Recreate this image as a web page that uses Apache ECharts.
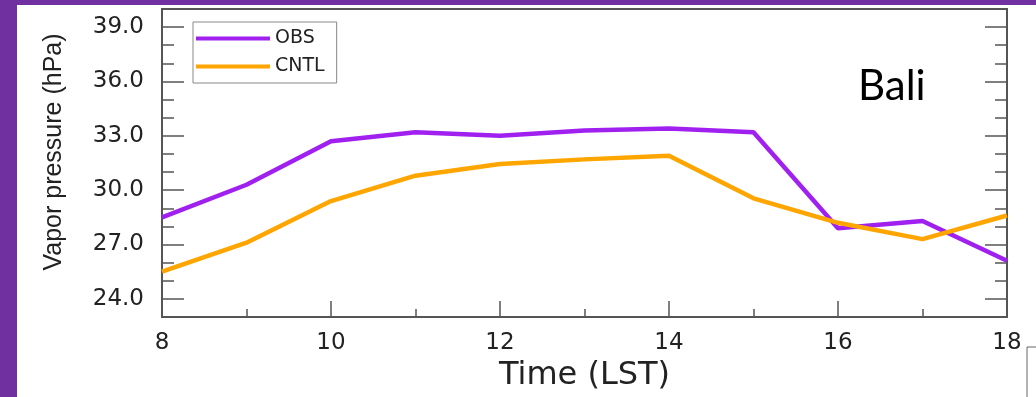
<!DOCTYPE html>
<html>
<head>
<meta charset="utf-8">
<script src="https://cdn.jsdelivr.net/npm/echarts@6/dist/echarts.min.js"></script>
<style>
  html, body { margin: 0; padding: 0; background: #fff; }
  #main { width: 1036px; height: 397px; }
</style>
</head>
<body>
<div id="main"></div>
<script>
// hours (LST) and vapor pressure (hPa)
var hours = [8, 9, 10, 11, 12, 13, 14, 15, 16, 17, 18];
var obsVals = [28.5, 30.3, 32.7, 33.2, 33.0, 33.3, 33.4, 33.2, 27.9, 28.3, 26.1];
var cntlVals = [25.5, 27.1, 29.4, 30.8, 31.45, 31.7, 31.9, 29.55, 28.2, 27.3, 28.6];
var majorY = [24, 27, 30, 33, 36, 39];

var zip = function (xs, ys) {
  return xs.map(function (x, i) { return [x, ys[i]]; });
};

var myChart = echarts.init(document.getElementById('main'));

var tickColor = '#555';

var minorAxis = function (pos, showLabel) {
  return {
    type: 'value',
    position: pos,
    min: 23,
    max: 40,
    interval: 1,
    axisLine: { show: false },
    splitLine: { show: false },
    axisTick: { show: true, inside: true, length: 12, lineStyle: { color: tickColor, width: 1.5 } },
    axisLabel: {
      show: showLabel,
      margin: 18,
      color: '#222',
      fontFamily: 'DejaVu Sans',
      fontSize: 23,
      formatter: function (v) { return v % 3 === 0 ? v.toFixed(1) : ''; }
    },
    name: showLabel ? 'Vapor pressure (hPa)' : '',
    nameLocation: 'middle',
    nameGap: 95,
    nameTextStyle: { fontFamily: 'Liberation Sans', fontSize: 25, color: '#222', padding: [0, 0, 0, 22] }
  };
};

var majorAxis = function (pos) {
  return {
    type: 'value',
    position: pos,
    min: 23,
    max: 40,
    axisLine: { show: false },
    splitLine: { show: false },
    axisLabel: { show: false },
    axisTick: { show: true, inside: true, length: 22, customValues: majorY, lineStyle: { color: tickColor, width: 1.5 } }
  };
};

var option = {
  backgroundColor: '#fff',
  animation: false,
  grid: {
    left: 162, right: 29, top: 9, bottom: 76,
    show: true, borderColor: '#555', borderWidth: 2, backgroundColor: '#fff'
  },
  legend: {
    orient: 'vertical',
    left: 193,
    top: 22,
    icon: 'rect',
    itemWidth: 74,
    itemHeight: 4,
    itemGap: 7,
    padding: [6, 12, 6, 3],
    borderColor: '#888',
    borderWidth: 1,
    backgroundColor: '#fff',
    textStyle: { fontFamily: 'DejaVu Sans', fontSize: 19, color: '#222', lineHeight: 21 },
    data: ['OBS', 'CNTL']
  },
  xAxis: {
    type: 'value',
    min: 8,
    max: 18,
    interval: 2,
    axisLine: { show: false },
    splitLine: { show: false },
    axisTick: { show: true, inside: true, length: 16, lineStyle: { color: tickColor, width: 1.5 } },
    minorTick: { show: true, splitNumber: 2, length: 8, lineStyle: { color: tickColor, width: 1.5 } },
    axisLabel: { margin: 15, color: '#222', fontFamily: 'DejaVu Sans', fontSize: 23 },
    name: 'Time (LST)',
    nameLocation: 'middle',
    nameGap: 43,
    nameTextStyle: { fontFamily: 'DejaVu Sans', fontSize: 32, color: '#222' }
  },
  yAxis: [minorAxis('left', true), majorAxis('left'), minorAxis('right', false), majorAxis('right')],
  series: [
    {
      name: 'OBS',
      type: 'line',
      data: zip(hours, obsVals),
      symbol: 'none',
      color: '#A020F0',
      lineStyle: { width: 4.5, color: '#A020F0' }
    },
    {
      name: 'CNTL',
      type: 'line',
      data: zip(hours, cntlVals),
      symbol: 'none',
      color: '#FFA500',
      lineStyle: { width: 4.5, color: '#FFA500' }
    }
  ],
  graphic: [
    // slide frame
    { type: 'rect', left: 0, top: 0, shape: { width: 17, height: 397 }, style: { fill: '#7030A0' } },
    { type: 'rect', left: 0, top: 0, shape: { width: 1036, height: 5 }, style: { fill: '#7030A0' } },
    { type: 'polyline', shape: { points: [[1027, 397], [1027, 347], [1036, 347]] }, style: { stroke: '#666', lineWidth: 1, fill: null } },
    {
      type: 'text',
      left: 858,
      top: 65,
      style: { text: 'Bali', font: '42px Lato', fill: '#000' }
    }
  ]
};

myChart.setOption(option);
</script>
</body>
</html>
